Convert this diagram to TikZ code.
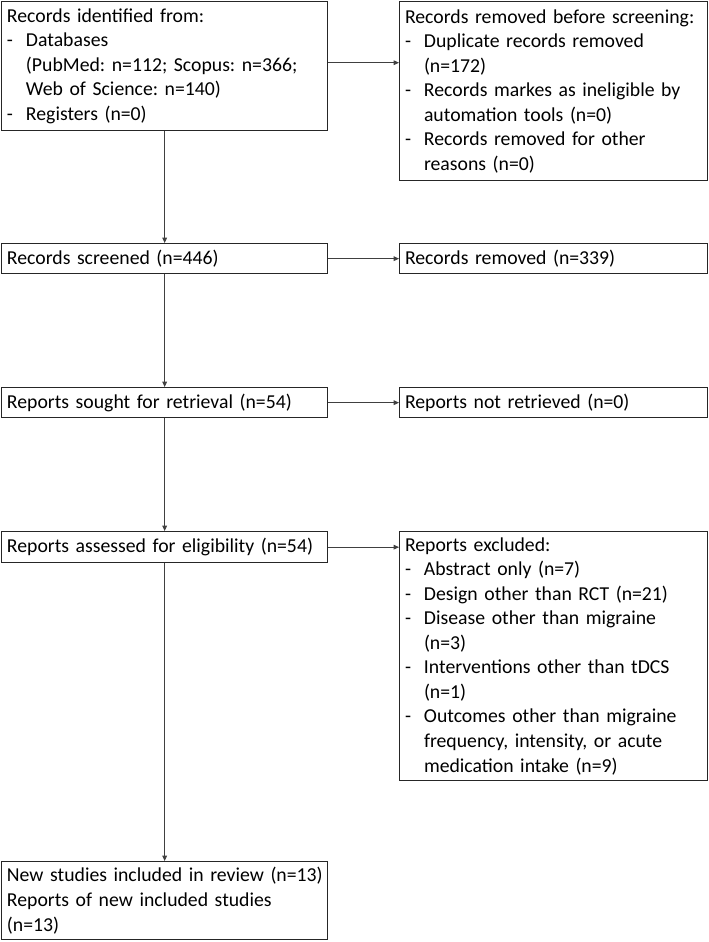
\documentclass[tikz,border=0pt]{standalone}
\usepackage{fontspec}
\setmainfont{Carlito}
\usetikzlibrary{arrows.meta}
\newcommand{\pdash}{\makebox[14.25pt][l]{-}}
\newcommand{\pind}{\hspace*{14.25pt}}
\newcommand{\boxfont}{\fontsize{14.8pt}{18.4pt}\selectfont\frenchspacing\spaceskip=2.45pt plus 1pt minus 0.5pt\relax}
\tikzset{
  box/.style={draw=black!85, line width=1pt, anchor=north west, align=left,
    inner xsep=4pt, inner ysep=2pt, font=\boxfont},
  lbox/.style={box, text width=236.5pt, minimum width=244.5pt},
  rbox/.style={box, text width=223pt, minimum width=231pt},
  conn/.style={draw=black!75, line width=0.6pt, -{Triangle[length=4pt,width=3.5pt]}}
}
\begin{document}
\begin{tikzpicture}[x=0.75pt,y=-0.75pt]
\useasboundingbox (0,0) rectangle (709,942);
\node[lbox, minimum height=96.75pt] (A) at (1,1) {Records identified from:\\
\pdash Databases\\
\pind (PubMed: n=112; Scopus: n=366;\\
\pind Web of Science: n=140)\\
\pdash Registers (n=0)};
\node[rbox, minimum height=134.25pt] (B) at (399,1) {Records removed before screening:\\
\pdash Duplicate records removed\\
\pind (n=172)\\
\pdash Records markes as ineligible by\\
\pind automation tools (n=0)\\
\pdash Records removed for other\\
\pind reasons (n=0)};
\node[lbox, minimum height=22.5pt] (C) at (1,243) {Records screened (n=446)};
\node[rbox, minimum height=22.5pt] (D) at (399,243) {Records removed (n=339)};
\node[lbox, minimum height=22.5pt] (E) at (1,387) {Reports sought for retrieval (n=54)};
\node[rbox, minimum height=22.5pt] (F) at (399,387) {Reports not retrieved (n=0)};
\node[lbox, minimum height=23.25pt] (G) at (1,531) {Reports assessed for eligibility (n=54)};
\node[rbox, minimum height=186.75pt] (H) at (399,531) {Reports excluded:\\
\pdash Abstract only (n=7)\\
\pdash Design other than RCT (n=21)\\
\pdash Disease other than migraine\\
\pind (n=3)\\
\pdash Interventions other than tDCS\\
\pind (n=1)\\
\pdash Outcomes other than migraine\\
\pind frequency, intensity, or acute\\
\pind medication intake (n=9)};
\node[lbox, minimum height=58.5pt] (I) at (1,861) {\mbox{New studies included in review (n=13)}\\
Reports of new included studies\\
(n=13)};
\draw[conn] ([yshift=2.6pt]A.east) -- ([yshift=2.6pt]A.east -| B.west);
\draw[conn] (A.south) -- (C.north);
\draw[conn] (C.east) -- (D.west);
\draw[conn] (C.south) -- (E.north);
\draw[conn] (E.east) -- (F.west);
\draw[conn] (E.south) -- (G.north);
\draw[conn] (G.east) -- (H.west |- G.east);
\draw[conn] (G.south) -- (I.north);
\end{tikzpicture}
\end{document}
